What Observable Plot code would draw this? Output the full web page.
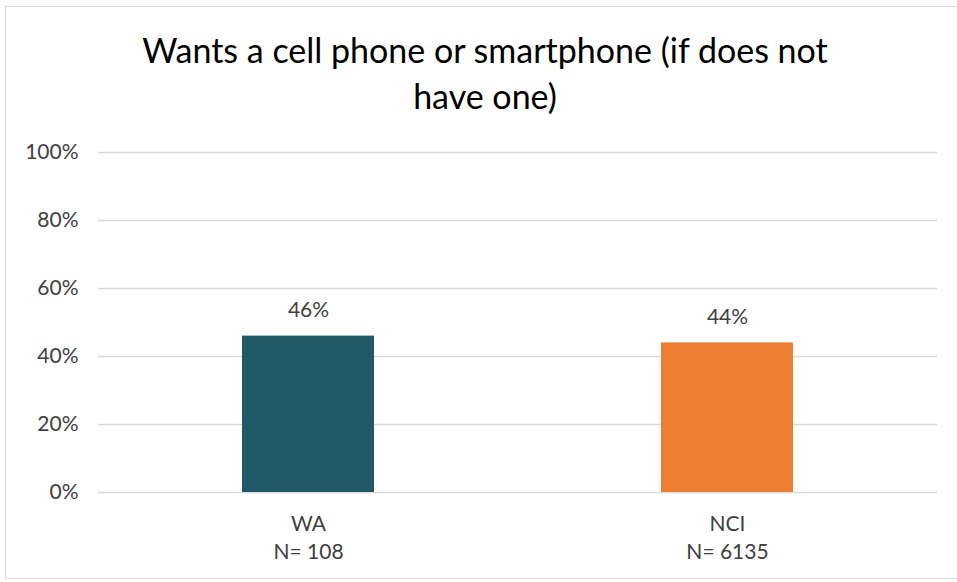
<!DOCTYPE html>
<html>
<head>
<meta charset="utf-8">
<script src="https://cdn.jsdelivr.net/npm/d3@7"></script>
<script src="https://cdn.jsdelivr.net/npm/@observablehq/plot@0.6"></script>
<style>
  body { margin: 0; background: #fff; font-family: Lato, "Noto Sans", sans-serif; }
  #wrap { position: relative; width: 957px; height: 582px; overflow: hidden; }
  #frame { position: absolute; left: 5px; top: 6px; width: 1000px; height: 573px; border: 1.5px solid #d9d9d9; box-sizing: border-box; }
  #title { position: absolute; left: 0; width: 970px; top: 27px; text-align: center; font-size: 34px; line-height: 46px; color: #000; }
  #chart { position: absolute; left: 0; top: 130px; }
</style>
</head>
<body>
<div id="wrap">
  <div id="frame"></div>
  <div id="title">Wants a cell phone or smartphone (if does not<br>have one)</div>
  <div id="chart"></div>
</div>
<script>
const groups = ["WA", "NCI"];
const sampleSizes = ["108", "6135"];
const values = [0.46, 0.44];
const colors = ["#215968", "#ED7D31"];
const yTicks = [0, 0.2, 0.4, 0.6, 0.8, 1.0];

const data = groups.map((g, i) => ({group: g, n: sampleSizes[i], value: values[i], color: colors[i]}));

const chart = Plot.plot({
  width: 957,
  height: 452,
  marginTop: 22,
  marginBottom: 90,
  marginLeft: 98,
  marginRight: 20,
  style: {fontFamily: "Lato, 'Noto Sans', sans-serif", background: "transparent"},
  x: {domain: groups, paddingInner: 0.685, paddingOuter: 0.3425, label: null},
  y: {domain: [0, 1], label: null},
  marks: [
    Plot.ruleY(yTicks, {stroke: "#d9d9d9", strokeWidth: 1.5}),
    Plot.barY(data, {x: "group", y: "value", fill: "color"}),
    Plot.text(data, {x: "group", y: "value", text: d => Math.round(d.value * 100) + "%", dy: -26, fontSize: 21, fill: "#404040"}),
    Plot.axisY(yTicks, {tickSize: 0, tickPadding: 20, tickFormat: d => Math.round(d * 100) + "%", fontSize: 21, color: "#404040", label: null}),
    Plot.axisX({tickSize: 0, tickPadding: 18, fontSize: 21, color: "#404040", lineHeight: 1.35,
      tickFormat: (d) => d + "\nN= " + sampleSizes[groups.indexOf(d)], label: null})
  ]
});
document.getElementById("chart").appendChild(chart);
</script>
</body>
</html>
